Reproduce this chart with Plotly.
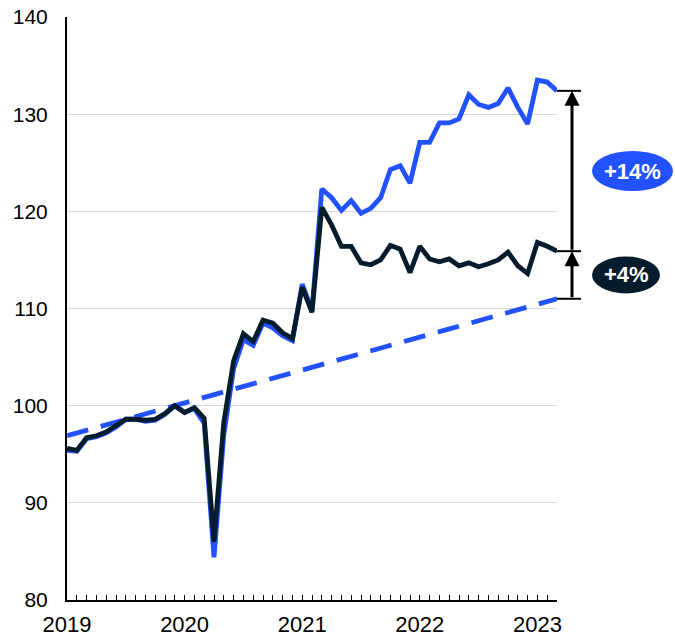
import plotly.graph_objects as go

# ---- data ----
month_labels = [f"{y}-{m:02d}" for y in range(2019, 2024) for m in range(1, 13)][:51]

blue_values = [95.4, 95.3, 96.6, 96.8, 97.2, 97.8, 98.6, 98.6, 98.4, 98.5,
               99.1, 100.0, 99.3, 99.7, 98.2, 84.4, 97.0, 103.8, 106.8, 106.2,
               108.5, 108.0, 107.2, 106.7, 112.5, 109.8, 122.3, 121.4, 120.1, 121.1,
               119.8, 120.3, 121.4, 124.3, 124.7, 122.9, 127.1, 127.1, 129.1, 129.1,
               129.5, 132.0, 131.0, 130.7, 131.1, 132.7, 130.7, 129.0, 133.5, 133.3,
               132.4]

navy_values = [95.6, 95.4, 96.7, 96.9, 97.3, 97.9, 98.6, 98.6, 98.5, 98.6,
               99.2, 100.0, 99.3, 99.8, 98.7, 86.0, 98.3, 104.6, 107.4, 106.6,
               108.8, 108.5, 107.5, 106.9, 112.2, 109.6, 120.4, 118.6, 116.4, 116.4,
               114.7, 114.5, 115.0, 116.5, 116.1, 113.7, 116.4, 115.1, 114.8, 115.1,
               114.4, 114.7, 114.3, 114.6, 115.0, 115.8, 114.4, 113.6, 116.8, 116.4,
               115.9]

trend_start, trend_end = 96.9, 111.0

year_labels = ["2019", "2020", "2021", "2022", "2023"]
y_ticks = [80, 90, 100, 110, 120, 130, 140]
gap_labels = ["+14%", "+4%"]

BLUE = "#2251FF"
NAVY = "#051C2C"
FONT = "Liberation Sans, Arial, sans-serif"

x = list(range(len(month_labels)))
last = len(month_labels) - 1

fig = go.Figure()
fig.add_trace(go.Scatter(x=[0, last], y=[trend_start, trend_end], mode="lines",
                         line=dict(color=BLUE, width=4.8, dash="22px,13px"),
                         hoverinfo="skip"))
fig.add_trace(go.Scatter(x=x, y=blue_values, mode="lines",
                         line=dict(color=BLUE, width=4.8, shape="linear")))
fig.add_trace(go.Scatter(x=x, y=navy_values, mode="lines",
                         line=dict(color=NAVY, width=4.8, shape="linear")))

tickvals = x
ticktext = [year_labels[i // 12] if i % 12 == 0 else "" for i in x]

fig.update_layout(
    width=675, height=637,
    margin=dict(l=67, r=118, t=17, b=37),
    paper_bgcolor="white", plot_bgcolor="white",
    showlegend=False,
    font=dict(family=FONT, size=21, color="black"),
    xaxis=dict(range=[0, last], tickmode="array", tickvals=tickvals, ticktext=ticktext,
               ticks="inside", ticklen=5, tickwidth=1, tickcolor="black",
               showline=True, linecolor="black", linewidth=1.5,
               showgrid=False, zeroline=False, tickangle=0, automargin=False,
               ticklabelstandoff=4, tickfont=dict(size=22)),
    yaxis=dict(range=[80, 140], tickvals=y_ticks, ticks="", showline=True,
               linecolor="black", linewidth=2, gridcolor="#D9D9D9", gridwidth=1.2,
               zeroline=False, ticklabelstandoff=13, automargin=False,
               tickfont=dict(size=21)),
)

blue_last = blue_values[-1]
navy_last = navy_values[-1]
xa = 1.0306
cap_x1 = 1.049

for yv in [blue_last, navy_last, trend_end]:
    fig.add_shape(type="line", xref="paper", yref="y", x0=1.0, x1=cap_x1, y0=yv, y1=yv,
                  line=dict(color="black", width=2))

fig.add_annotation(xref="paper", yref="y", x=xa, y=blue_last, axref="pixel", ax=0,
                   ayref="y", ay=navy_last, showarrow=True, arrowhead=2, arrowsize=1,
                   arrowwidth=3, arrowcolor="black", standoff=0, text="")
fig.add_annotation(xref="paper", yref="y", x=xa, y=navy_last, axref="pixel", ax=0,
                   ayref="y", ay=trend_end, showarrow=True, arrowhead=2, arrowsize=1,
                   arrowwidth=3, arrowcolor="black", standoff=0, text="")

mid1 = (blue_last + navy_last) / 2
mid2 = (navy_last + trend_end) / 2
fig.add_shape(type="circle", xref="paper", yref="y", xsizemode="pixel", ysizemode="pixel",
              xanchor=1.0, yanchor=mid1, x0=35, x1=116, y0=-20, y1=20,
              fillcolor=BLUE, line=dict(width=0))
fig.add_shape(type="circle", xref="paper", yref="y", xsizemode="pixel", ysizemode="pixel",
              xanchor=1.0, yanchor=mid2, x0=35, x1=103, y0=-18.5, y1=18.5,
              fillcolor=NAVY, line=dict(width=0))
fig.add_annotation(xref="paper", yref="y", x=(75.5 + 490) / 490, y=mid1, text=f"<b>{gap_labels[0]}</b>",
                   xanchor="center", yanchor="middle",
                   showarrow=False, font=dict(color="white", size=22, family=FONT))
fig.add_annotation(xref="paper", yref="y", x=(69 + 490) / 490, y=mid2, text=f"<b>{gap_labels[1]}</b>",
                   xanchor="center", yanchor="middle",
                   showarrow=False, font=dict(color="white", size=22, family=FONT))

fig.write_html("out.html")
